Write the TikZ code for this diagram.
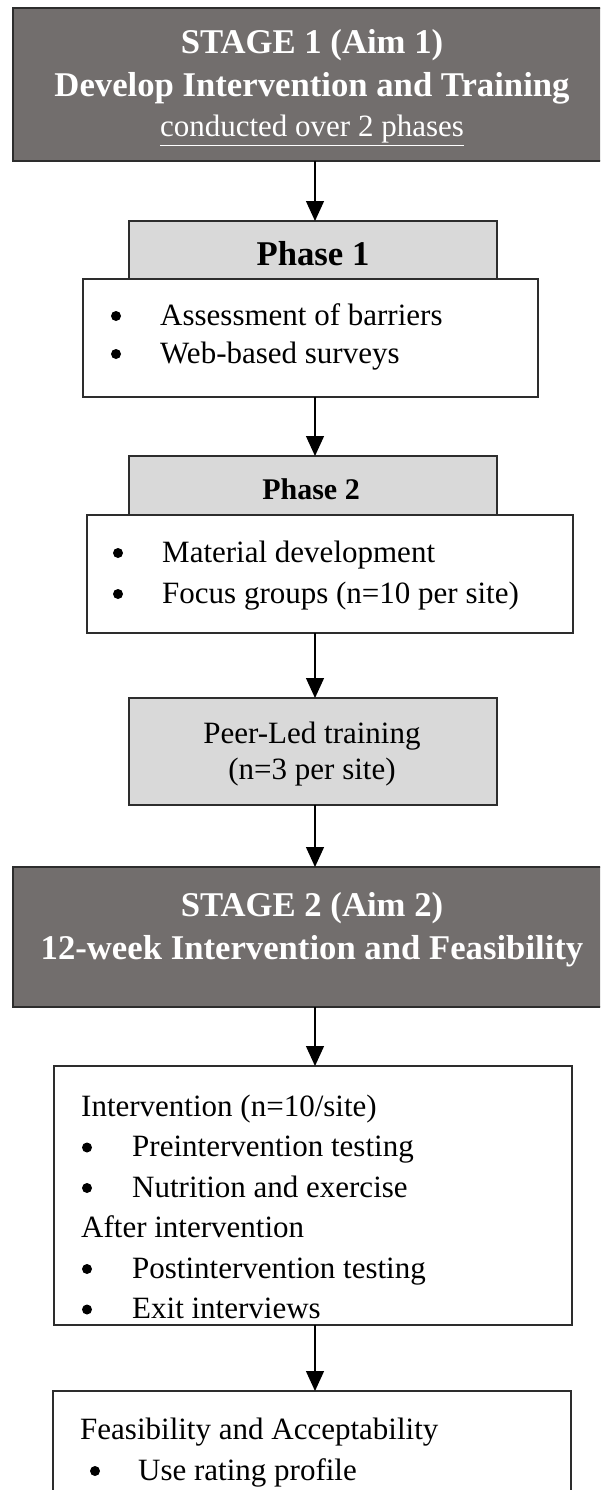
\documentclass[tikz,border=0pt]{standalone}
\usepackage{fontspec}
\setmainfont{Liberation Serif}
\usetikzlibrary{arrows.meta}
\definecolor{stagefill}{RGB}{114,110,109}
\definecolor{headfill}{RGB}{217,217,217}
\definecolor{edgecol}{RGB}{45,45,45}
\begin{document}
\begin{tikzpicture}[x=1pt,y=-1pt,
  box/.style={draw=edgecol, line width=1.2pt, rectangle, inner sep=0pt, outer sep=0pt},
  stagebox/.style={box, fill=stagefill},
  headbox/.style={box, fill=headfill},
  plainbox/.style={box, fill=white},
  txt/.style={inner sep=0pt, anchor=base, font=\fontsize{31}{36}\selectfont},
  txtw/.style={txt, anchor=base west},
  boldtxt/.style={inner sep=0pt, anchor=base, font=\fontsize{34.7}{40}\selectfont\bfseries},
  whitebold/.style={boldtxt, text=white},
  bul/.style={circle, fill=black, draw=none, inner sep=0pt, minimum size=10pt},
  arr/.style={draw=black, line width=1.3pt, -{Triangle[width=18pt,length=20pt]}}]
\path[use as bounding box] (0,0) rectangle (600,1490);
\clip (0,0) rectangle (600,1490);
\coordinate (ax) at (315,0);

% Stage 1
\node[stagebox, minimum width=598pt, minimum height=153pt] (s1) at (312,84.5) {};
\node[whitebold] (s1a) at (312,54) {STAGE 1 (Aim 1)};
\node[whitebold] (s1b) at (312,97) {Develop Intervention and Training};
\node[txt, text=white] (s1c) at (312,137) {\underline{conducted over 2 phases}};

% Phase 1
\node[headbox, minimum width=368pt, minimum height=58pt] (p1h) at (313,250) {};
\node[boldtxt] (p1t) at (313,265) {Phase 1};
\node[plainbox, minimum width=455pt, minimum height=118pt] (p1c) at (310.5,338) {};
\node[bul] (p1b1) at (116,316) {};
\node[txtw] (p1i1) at (160,325) {Assessment of barriers};
\node[bul] (p1b2) at (116,354) {};
\node[txtw] (p1i2) at (160,363) {Web-based surveys};

% Phase 2
\node[headbox, minimum width=368pt, minimum height=59pt] (p2h) at (313,485.5) {};
\node[boldtxt, font=\fontsize{30}{36}\selectfont\bfseries] (p2t) at (311,499) {Phase 2};
\node[plainbox, minimum width=486pt, minimum height=118pt] (p2c) at (330,574) {};
\node[bul] (p2b1) at (118,553) {};
\node[txtw] (p2i1) at (162,562) {Material development};
\node[bul] (p2b2) at (118,594) {};
\node[txtw] (p2i2) at (162,603) {Focus groups (n=10 per site)};

% Peer-led training
\node[headbox, minimum width=368pt, minimum height=107pt] (peer) at (313,751.5) {};
\node[txt] (peer1) at (312,743) {Peer-Led training};
\node[txt] (peer2) at (312,779) {(n=3 per site)};

% Stage 2
\node[stagebox, minimum width=599pt, minimum height=140pt] (s2) at (312.5,937) {};
\node[whitebold] (s2a) at (312,916) {STAGE 2 (Aim 2)};
\node[whitebold] (s2b) at (312,959) {12-week Intervention and Feasibility};

% Intervention
\node[plainbox, minimum width=518pt, minimum height=259pt] (int) at (313,1195.5) {};
\node[txtw] (int0) at (81,1116) {Intervention (n=10/site)};
\node[bul] (intb1) at (87,1147.5) {};
\node[txtw] (int1) at (132,1156.5) {Preintervention testing};
\node[bul] (intb2) at (87,1188) {};
\node[txtw] (int2) at (132,1197) {Nutrition and exercise};
\node[txtw] (int3) at (81,1237.5) {After intervention};
\node[bul] (intb4) at (87,1269) {};
\node[txtw] (int4) at (132,1278) {Postintervention testing};
\node[bul] (intb5) at (87,1309.5) {};
\node[txtw] (int5) at (132,1318.5) {Exit interviews};

% Feasibility
\node[plainbox, minimum width=518pt, minimum height=130pt] (fea) at (312,1456) {};
\node[txtw] (fea0) at (80,1439) {Feasibility and Acceptability};
\node[bul] (feab1) at (95,1471) {};
\node[txtw] (fea1) at (138,1480) {Use rating profile};

% Connectors
\draw[arr] (s1.south -| ax) -- (p1h.north -| ax);
\draw[arr] (p1c.south -| ax) -- (p2h.north -| ax);
\draw[arr] (p2c.south -| ax) -- (peer.north -| ax);
\draw[arr] (peer.south -| ax) -- (s2.north -| ax);
\draw[arr] (s2.south -| ax) -- (int.north -| ax);
\draw[arr] (int.south -| ax) -- (fea.north -| ax);
\end{tikzpicture}
\end{document}
